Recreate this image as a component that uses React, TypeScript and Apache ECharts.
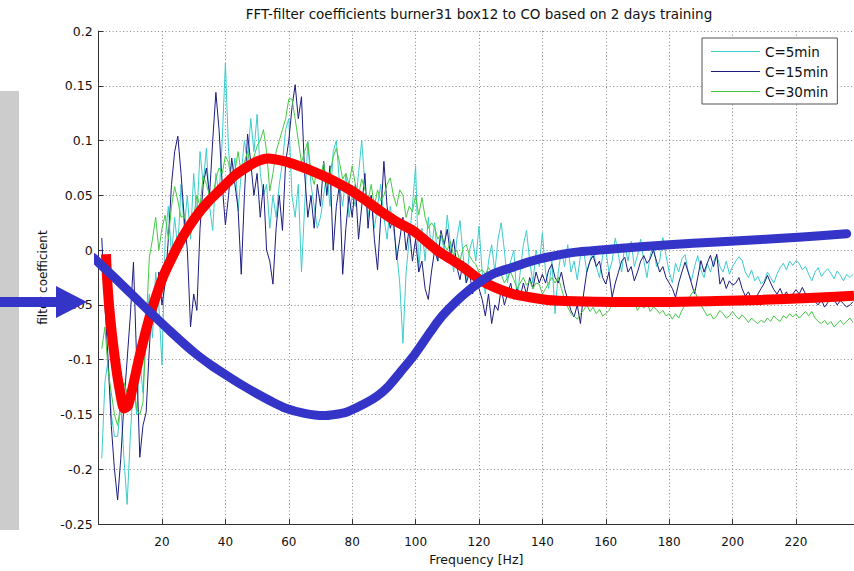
import React, { useEffect, useRef } from "react";
import * as echarts from "echarts";

const TITLE = "FFT-filter coefficients burner31 box12 to CO based on 2 days training";
const X_NAME = "Frequency [Hz]";
const Y_NAME = "filter coefficient";
const SERIES_NAMES = ["C=5min", "C=15min", "C=30min"];

// values at 1 Hz, 2 Hz, ... 238 Hz
const c5min = [
  -0.19, -0.12, -0.10, -0.15, -0.17, -0.17, -0.14, -0.19, -0.232, -0.17, -0.12, -0.15, -0.10, -0.13, -0.07, -0.04, -0.08, -0.02, -0.05, -0.105,
  0.01, 0.04, -0.005, 0.03, 0.0, 0.06, 0.02, 0.05, 0.01, 0.07, 0.03, 0.09, 0.06, 0.093, 0.04, 0.018, 0.07, 0.05, 0.10, 0.171,
  0.09, 0.06, 0.084, 0.036, 0.07, 0.10, 0.08, 0.12, 0.09, 0.124, 0.07, 0.05, 0.06, 0.02, 0.05, 0.03, 0.06, 0.08, 0.11, 0.12,
  0.05, 0.03, 0.06, -0.02, 0.04, 0.099, 0.06, 0.04, 0.02, 0.03, 0.05, 0.07, 0.04, 0.09, 0.10, 0.06, 0.04, 0.07, 0.03, 0.05,
  0.04, 0.07, 0.10, 0.06, 0.03, 0.05, 0.02, 0.04, 0.06, 0.03, 0.01, 0.04, 0.02, 0.0, -0.03, -0.085, -0.02, 0.01, 0.04, 0.077,
  -0.018, 0.02, -0.01, 0.03, 0.0, 0.025, -0.01, 0.015, 0.0, 0.032, 0.005, -0.02, 0.01, 0.027, -0.005, -0.03, 0.0, 0.01, -0.01, 0.022,
  -0.02, -0.04, -0.01, 0.005, -0.02, 0.01, 0.025, 0.0, -0.03, -0.01, 0.0, -0.045, -0.02, 0.005, 0.018, -0.01, -0.03, 0.0, -0.015, 0.016,
  -0.02, -0.035, -0.01, -0.058, -0.02, 0.0, -0.015, 0.005, -0.02, -0.01, -0.027, -0.005, 0.0, -0.02, -0.01, 0.002, -0.015, -0.025, -0.005, 0.0,
  -0.02, -0.01, 0.011, -0.005, -0.02, 0.005, -0.01, 0.008, -0.015, -0.005, 0.01, -0.01, -0.025, -0.005, 0.005, -0.015, -0.01, 0.0115, -0.005, -0.02,
  -0.03, -0.012, -0.02, -0.008, -0.004, -0.02, -0.028, -0.015, -0.005, -0.018, -0.025, -0.012, -0.02, -0.01, -0.005, -0.015, -0.02, -0.01, -0.022, -0.015,
  -0.01, -0.006, -0.0095, -0.02, -0.025, -0.018, -0.028, -0.024, -0.031, -0.028, -0.02, -0.025, -0.03, -0.022, -0.016, -0.012, -0.018, -0.01, -0.014, -0.0095,
  -0.012, -0.018, -0.015, -0.022, -0.028, -0.02, -0.016, -0.024, -0.02, -0.017, -0.021, -0.026, -0.019, -0.023, -0.028, -0.022, -0.025, -0.022,
];

const c15min = [
  0.011, -0.05, -0.10, -0.16, -0.20, -0.228, -0.19, -0.14, -0.10, -0.06, -0.011, -0.10, -0.189, -0.16, -0.148, -0.09, -0.04, -0.06, -0.02, -0.05,
  -0.03, 0.01, 0.06, 0.09, 0.104, 0.07, 0.03, 0.0, -0.07, -0.04, -0.055, 0.02, 0.06, 0.075, 0.05, 0.10, 0.144, 0.11, 0.06, 0.023,
  0.05, 0.084, 0.06, 0.038, -0.022, 0.05, 0.106, 0.08, 0.05, 0.07, 0.03, 0.06, 0.0, -0.01, -0.031, 0.02, 0.05, 0.018, 0.08, 0.10,
  0.13, 0.151, 0.12, 0.14, 0.07, 0.03, 0.05, 0.02, 0.06, 0.04, 0.081, 0.05, 0.077, 0.0, 0.04, 0.06, -0.022, 0.02, 0.05, 0.03,
  0.06, 0.01, 0.04, 0.07, 0.02, 0.05, 0.01, -0.018, 0.03, 0.081, 0.04, 0.02, 0.03, -0.009, 0.01, 0.03, 0.0, 0.02, -0.01, 0.01,
  -0.02, -0.01, -0.035, -0.045, -0.02, 0.0, -0.01, 0.018, 0.005, 0.019, -0.005, 0.01, -0.015, -0.027, -0.01, -0.03, -0.02, -0.04, -0.025, -0.035,
  -0.045, -0.06, -0.04, -0.067, -0.05, -0.055, -0.035, -0.05, -0.04, -0.03, -0.045, -0.035, -0.043, -0.03, -0.04, -0.025, -0.035, -0.02, -0.03, -0.022,
  -0.03, -0.018, -0.013, -0.025, -0.03, -0.02, -0.035, -0.045, -0.055, -0.061, -0.05, -0.067, -0.04, -0.02, -0.01, -0.005, -0.015, -0.01, -0.025, -0.031,
  -0.02, -0.043, -0.03, -0.02, -0.01, -0.0065, -0.02, -0.015, -0.028, -0.02, -0.01, -0.005, -0.012, -0.008, 0.0, -0.01, -0.02, -0.015, -0.025, -0.03,
  -0.035, -0.043, -0.03, -0.02, -0.011, -0.02, -0.03, -0.04, -0.025, -0.0095, -0.02, -0.012, -0.0047, -0.015, -0.0037, -0.031, -0.025, -0.035, -0.028, -0.032,
  -0.03, -0.025, -0.035, -0.042, -0.038, -0.045, -0.049, -0.04, -0.035, -0.03, -0.023, -0.03, -0.036, -0.04, -0.035, -0.042, -0.038, -0.045, -0.04, -0.036,
  -0.04, -0.034, -0.04, -0.045, -0.04, -0.047, -0.05, -0.045, -0.052, -0.048, -0.042, -0.045, -0.05, -0.046, -0.049, -0.052, -0.05, -0.047,
];

const c30min = [
  -0.09, -0.07, -0.11, -0.13, -0.15, -0.16, -0.14, -0.121, -0.13, -0.14, -0.12, -0.145, -0.15, -0.139, -0.07, -0.0065, 0.01, 0.03, 0.0, 0.02,
  0.032, 0.01, 0.04, 0.058, 0.045, 0.03, 0.032, 0.02, 0.014, 0.03, 0.05, 0.04, 0.068, 0.06, 0.05, 0.048, 0.065, 0.075, 0.07, 0.086,
  0.08, 0.06, 0.072, 0.09, 0.07, 0.08, 0.09, 0.075, 0.085, 0.095, 0.10, 0.11, 0.09, 0.054, 0.07, 0.09, 0.10, 0.11, 0.12, 0.138,
  0.138, 0.12, 0.10, 0.08, 0.09, 0.099, 0.07, 0.06, 0.075, 0.065, 0.08, 0.06, 0.07, 0.085, 0.093, 0.08, 0.065, 0.07, 0.06, 0.077,
  0.06, 0.05, 0.065, 0.055, 0.045, 0.06, 0.04, 0.055, 0.045, 0.05, 0.06, 0.066, 0.05, 0.04, 0.055, 0.05, 0.03, 0.04, 0.035, 0.05,
  0.032, 0.048, 0.03, 0.02, 0.025, 0.021, 0.01, 0.015, 0.005, 0.0, 0.008, -0.005, 0.0, -0.01, 0.002, 0.005, -0.005, -0.01, -0.013, -0.02,
  -0.018, -0.022, -0.016, -0.02, -0.025, -0.018, -0.022, -0.03, -0.025, -0.02, -0.027, -0.035, -0.03, -0.025, -0.032, -0.028, -0.035, -0.03, -0.031, -0.04,
  -0.035, -0.03, -0.025, -0.03, -0.025, -0.035, -0.045, -0.052, -0.058, -0.06, -0.063, -0.058, -0.055, -0.05, -0.056, -0.052, -0.058, -0.054, -0.06, -0.058,
  -0.055, -0.05, -0.052, -0.047, -0.045, -0.048, -0.043, -0.05, -0.047, -0.055, -0.05, -0.053, -0.048, -0.056, -0.052, -0.054, -0.058, -0.055, -0.06, -0.058,
  -0.063, -0.058, -0.062, -0.055, -0.05, -0.045, -0.04, -0.036, -0.045, -0.05, -0.055, -0.06, -0.058, -0.063, -0.06, -0.055, -0.058, -0.062, -0.06, -0.056,
  -0.06, -0.063, -0.059, -0.062, -0.066, -0.062, -0.065, -0.067, -0.064, -0.066, -0.062, -0.065, -0.06, -0.063, -0.065, -0.06, -0.062, -0.058, -0.061, -0.058,
  -0.062, -0.059, -0.056, -0.06, -0.056, -0.062, -0.065, -0.067, -0.064, -0.068, -0.065, -0.07, -0.067, -0.064, -0.068, -0.065, -0.062, -0.066,
];

// hand-drawn overlay curves: [Hz, value]
const redCurve = [
  [2.33, -0.0038], [2.65, -0.0245], [3.6, -0.06], [5.17, -0.0995], [6.5, -0.125], [8.0, -0.1445], [9.3, -0.142],
  [11, -0.122], [12.7, -0.0995], [14.8, -0.075], [16.8, -0.054], [20.3, -0.0245], [23.2, -0.0065], [26.5, 0.012],
  [30.4, 0.0295], [34.5, 0.044], [38.9, 0.0566], [42.5, 0.067], [46.2, 0.0747], [50, 0.081], [53.4, 0.0837],
  [58.8, 0.081], [63, 0.077], [67.6, 0.072], [73, 0.065], [78.4, 0.0566], [83.5, 0.047], [88.8, 0.0359], [94, 0.026],
  [99.2, 0.0178], [103, 0.009], [106.8, -0.0002], [111, -0.008], [115, -0.0155], [120.3, -0.027], [125, -0.034],
  [130.7, -0.040], [136, -0.043], [141.5, -0.0454], [150, -0.0466], [162.3, -0.0472], [180.3, -0.0472], [195, -0.0465],
  [209, -0.0454], [224, -0.0437], [238.3, -0.0417],
];

const blueCurve = [
  [-1.8, -0.0065], [5, -0.025], [14.6, -0.052], [23, -0.075], [30.4, -0.094], [35.5, -0.105], [40.8, -0.115],
  [45.5, -0.1235], [50, -0.131], [54.5, -0.138], [58.8, -0.144], [65, -0.149], [71, -0.151], [78, -0.148],
  [84, -0.140], [88, -0.133], [91.5, -0.124], [95, -0.112], [99.5, -0.096], [103.6, -0.079], [107, -0.065],
  [110, -0.055], [115, -0.041], [120.3, -0.029], [125, -0.021], [130.8, -0.0155], [136, -0.0105], [141.4, -0.0065],
  [150, -0.002], [162, 0.001], [180, 0.005], [195, 0.0075], [209, 0.0097], [222, 0.012], [236, 0.015],
];

const X_MIN = 0;
const X_MAX = 238.3;
const Y_MIN = -0.25;
const Y_MAX = 0.2;

const FONT = "DejaVu Sans";

export default function App() {
  const ref = useRef<HTMLDivElement>(null);
  useEffect(() => {
    if (!ref.current) return;
    const chart = echarts.init(ref.current, undefined, { renderer: "svg" });
    const toPairs = (arr: number[]) => arr.map((v, i) => [i + 1, v]);
    const colors = ["#3ccccc", "#1c1c80", "#46c846"];
    const noisy = [c5min, c15min, c30min].map((arr, i) => ({
      name: SERIES_NAMES[i],
      type: "line",
      data: toPairs(arr),
      symbol: "none",
      lineStyle: { width: 1, color: colors[i] },
      itemStyle: { color: colors[i] },
      z: 2,
    }));
    chart.setOption({
      animation: false,
      backgroundColor: "#ffffff",
      legend: {
        data: SERIES_NAMES,
        orient: "vertical",
        left: 702,
        top: 38,
        icon: "rect",
        itemWidth: 49,
        itemHeight: 1,
        itemGap: 5,
        padding: [6, 9, 5, 9],
        backgroundColor: "#ffffff",
        borderColor: "#555",
        borderWidth: 1,
        borderRadius: 0,
        textStyle: { fontFamily: FONT, fontSize: 13.5, color: "#111", lineHeight: 15 },
      },
      grid: { left: 98.6, right: 0, top: 31, bottom: 41, containLabel: false },
      xAxis: {
        type: "value",
        min: X_MIN,
        max: X_MAX,
        interval: 20,
        name: X_NAME,
        nameLocation: "middle",
        nameGap: 27,
        nameTextStyle: { fontFamily: FONT, fontSize: 12.5, color: "#111" },
        axisLine: { show: true, onZero: false, lineStyle: { color: "#333", width: 1 } },
        axisTick: { show: true, inside: true, length: 5, lineStyle: { color: "#333" } },
        axisLabel: {
          showMinLabel: false,
          showMaxLabel: false,
          fontFamily: FONT,
          fontSize: 12,
          color: "#111",
          margin: 12,
        },
        splitLine: { show: true, lineStyle: { type: [1, 2.5], color: "#888", width: 1 } },
      },
      yAxis: {
        type: "value",
        min: Y_MIN,
        max: Y_MAX,
        interval: 0.05,
        name: Y_NAME,
        nameLocation: "middle",
        nameGap: 50,
        nameTextStyle: { fontFamily: FONT, fontSize: 12, color: "#111" },
        axisLine: { show: true, onZero: false, lineStyle: { color: "#333", width: 1 } },
        axisTick: { show: true, inside: true, length: 5, lineStyle: { color: "#333" } },
        axisLabel: {
          fontFamily: FONT,
          fontSize: 12.5,
          color: "#111",
          margin: 6,
          formatter: (v: number) => String(Math.round(v * 100) / 100),
        },
        splitLine: { show: true, lineStyle: { type: [1, 2.5], color: "#888", width: 1 } },
      },
      series: [
        ...noisy,
        {
          name: "red",
          type: "line",
          data: redCurve,
          symbol: "none",
          smooth: 0.2,
          clip: false,
          lineStyle: { width: 10, color: "#ff0000", cap: "butt", join: "round" },
          z: 5,
        },
        {
          name: "blue",
          type: "line",
          data: blueCurve,
          symbol: "none",
          smooth: 0.2,
          clip: false,
          lineStyle: { width: 9, color: "#3434c8", cap: "round", join: "round" },
          z: 6,
        },
      ],
      graphic: [
        {
          type: "text",
          x: 479,
          y: 14,
          style: {
            text: TITLE,
            fill: "#111",
            font: `13.5px '${FONT}'`,
            textAlign: "center",
            textVerticalAlign: "middle",
          },
          z: 12,
        },
        {
          type: "rect",
          shape: { x: 0, y: 91, width: 19, height: 439 },
          style: { fill: "#cccccc" },
          z: 10,
        },
        {
          type: "polygon",
          shape: {
            points: [
              [0, 297],
              [56, 297],
              [56, 286],
              [87, 302],
              [56, 318],
              [56, 307],
              [0, 307],
            ],
          },
          style: { fill: "#3434c8" },
          z: 11,
        },
      ],
    });
    return () => chart.dispose();
  }, []);
  return (
    <div
      ref={ref}
      style={{ position: "absolute", left: 0, top: 0, width: 854, height: 571, background: "#fff" }}
    />
  );
}
